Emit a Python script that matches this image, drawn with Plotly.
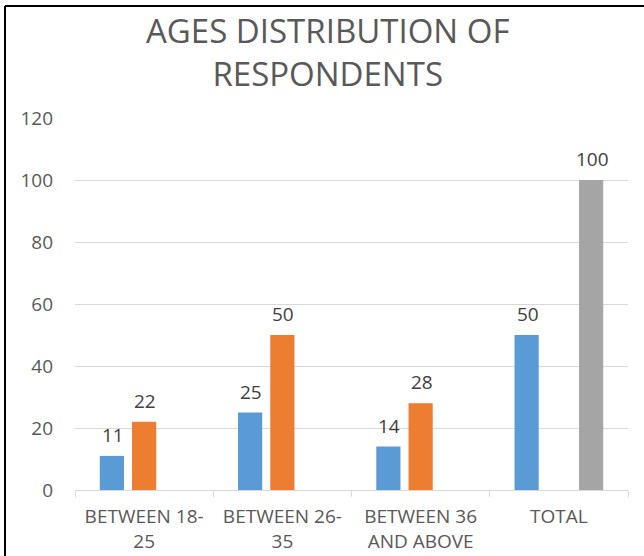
import plotly.graph_objects as go

categories = ["BETWEEN 18-<br>25", "BETWEEN 26-<br>35", "BETWEEN 36<br>AND ABOVE", "TOTAL"]
series_names = ["Series1", "Series2", "Series3"]
series1 = [11, 25, 14, 50]
series2 = [22, 50, 28, None]
series3 = [None, None, None, 100]
colors = ["#5B9BD5", "#ED7D31", "#A5A5A5"]
y_ticks = [0, 20, 40, 60, 80, 100, 120]
title_text = "AGES DISTRIBUTION OF<br>RESPONDENTS"

W, H = 644, 556
ML, MR, MT, MB = 75, 16, 118, 66
BARGAP, BARGROUPGAP = 0.3, 0.25
FONT = "Open Sans"
TXT = "#595959"

fig = go.Figure()
all_series = [series1, series2, series3]
for name, vals, col in zip(series_names, all_series, colors):
    fig.add_trace(go.Bar(x=categories, y=vals, name=name, marker_color=col,
                         marker_line_width=0, hoverinfo="y"))

# data labels above bars
plot_w = W - ML - MR
plot_h = H - MT - MB
slot = plot_w / len(categories) * (1 - BARGAP) / len(all_series)
for s, vals in enumerate(all_series):
    for c, v in zip(categories, vals):
        if v is None:
            continue
        fig.add_annotation(x=c, y=v, text=str(v), showarrow=False,
                           xref="x", yref="y", yanchor="bottom",
                           xshift=(s - 1) * slot + 1, yshift=6,
                           font=dict(family=FONT, size=19, color="#404040"))

px = lambda x: (x - ML) / plot_w
py = lambda y: (H - MB - y) / plot_h

# title
fig.add_annotation(text=title_text, xref="paper", yref="paper", x=px(W / 2 + 5), y=py(6),
                   xanchor="center", yanchor="top", showarrow=False, align="center",
                   font=dict(family=FONT, size=33, color=TXT))

# outer border (top and left only)
fig.add_shape(type="line", xref="paper", yref="paper", x0=px(5), x1=px(W + 5),
              y0=py(6), y1=py(6), line=dict(color="black", width=2))
fig.add_shape(type="line", xref="paper", yref="paper", x0=px(5), x1=px(5),
              y0=py(6), y1=py(H + 5), line=dict(color="black", width=2))

fig.update_layout(
    width=W, height=H, autosize=False,
    margin=dict(l=ML, r=MR, t=MT, b=MB, autoexpand=False),
    paper_bgcolor="white", plot_bgcolor="white",
    barmode="group", bargap=BARGAP, bargroupgap=BARGROUPGAP,
    showlegend=False,
    xaxis=dict(showline=True, linecolor="#D9D9D9", linewidth=1, automargin=False,
               ticks="outside", tickson="boundaries", ticklen=6, tickcolor="#D9D9D9",
               tickfont=dict(family=FONT, size=19, color=TXT),
               ticklabelstandoff=9, showgrid=False),
    yaxis=dict(range=[0, 120], tickvals=y_ticks, showgrid=True, gridcolor="#D9D9D9",
               gridwidth=1, zeroline=False, showline=False, ticks="", automargin=False,
               tickfont=dict(family=FONT, size=19, color=TXT),
               ticklabelstandoff=21),
)

fig.write_html("out.html")
